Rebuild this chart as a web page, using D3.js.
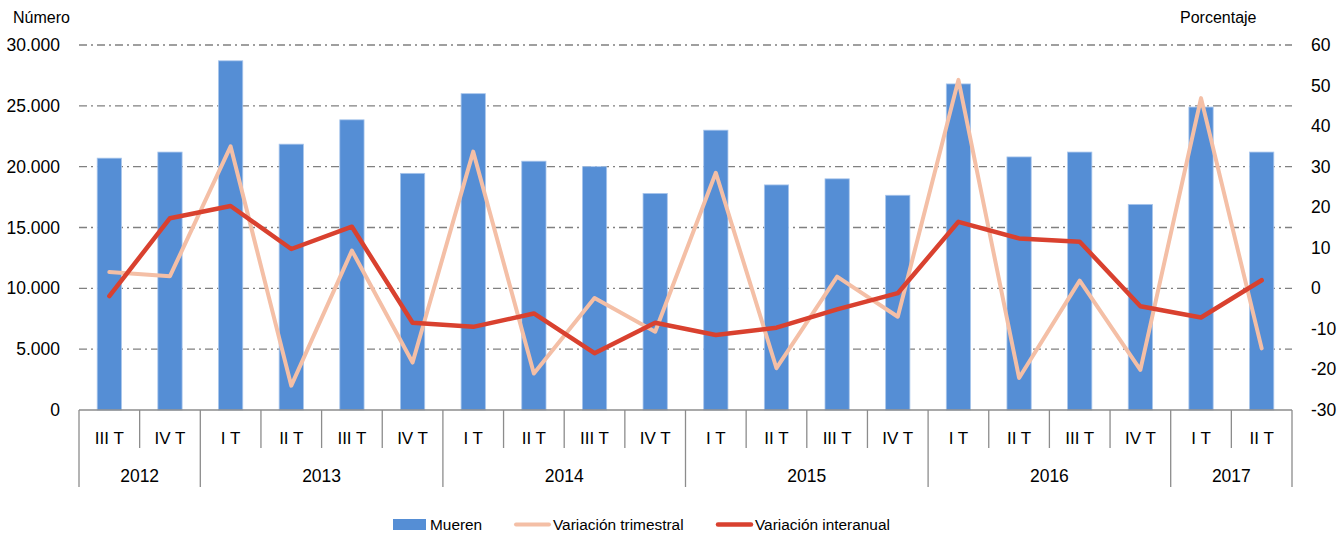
<!DOCTYPE html>
<html>
<head>
<meta charset="utf-8">
<script src="https://cdn.jsdelivr.net/npm/d3@7"></script>
<style>
  body { margin: 0; background: #fff; }
  text { font-family: "Liberation Sans", Arial, sans-serif; fill: #000; }
</style>
</head>
<body>
<div class="chart"></div>
<script>
// data
var quarters = ["III T","IV T","I T","II T","III T","IV T","I T","II T","III T","IV T",
                "I T","II T","III T","IV T","I T","II T","III T","IV T","I T","II T"];
var years = [
  { "year": "2012", "count": 2 },
  { "year": "2013", "count": 4 },
  { "year": "2014", "count": 4 },
  { "year": "2015", "count": 4 },
  { "year": "2016", "count": 4 },
  { "year": "2017", "count": 2 }];
var mueren = [20700, 21200, 28700, 21850, 23850, 19450, 26000, 20450, 20000, 17800,
              23000, 18500, 19000, 17650, 26800, 20800, 21200, 16900, 24900, 21200];
var varTrimestral = [4, 3, 35, -24, 9.3, -18.3, 33.7, -21, -2.4, -10.7,
                     28.5, -19.7, 2.9, -7, 51.4, -22.1, 1.9, -20.1, 46.9, -14.8];
var varInteranual = [-1.9, 17.3, 20.3, 9.7, 15.2, -8.5, -9.5, -6.2, -16, -8.5,
                     -11.5, -9.7, -5.2, -1.2, 16.4, 12.3, 11.5, -4.4, -7.2, 2];
var leftTicks = [0, 5000, 10000, 15000, 20000, 25000, 30000];
var rightTicks = [-30, -20, -10, 0, 10, 20, 30, 40, 50, 60];

var width = 1342, height = 538;
var plotLeft = 79, plotRight = 1292, plotTop = 45, plotBottom = 410;

var svg = d3.select(".chart").append("svg")
  .attr("width", width)
  .attr("height", height);

var x = d3.scaleBand()
  .domain(d3.range(quarters.length))
  .range([plotLeft, plotRight])
  .paddingInner(0.6)
  .paddingOuter(0.3);
var step = x.step();

var yLeft = d3.scaleLinear().domain([0, 30000]).range([plotBottom, plotTop]);
var yRight = d3.scaleLinear().domain([-30, 60]).range([plotBottom, plotTop]);

var fmt = function(v) { return d3.format(",")(v).replace(/,/g, "."); };

// gridlines
svg.append("g").selectAll("line")
  .data(leftTicks.filter(function(d) { return d > 0; }))
  .enter().append("line")
  .attr("x1", plotLeft).attr("x2", plotRight)
  .attr("y1", function(d) { return yLeft(d); })
  .attr("y2", function(d) { return yLeft(d); })
  .style("stroke", "#808080")
  .style("stroke-width", 1.3)
  .style("stroke-dasharray", "8,4,2,4");

// left axis labels
svg.append("g").selectAll("text")
  .data(leftTicks)
  .enter().append("text")
  .attr("x", 60)
  .attr("y", function(d) { return yLeft(d) + 6; })
  .attr("text-anchor", "end")
  .style("font-size", "17.5px")
  .text(fmt);

// right axis labels
svg.append("g").selectAll("text")
  .data(rightTicks)
  .enter().append("text")
  .attr("x", 1311)
  .attr("y", function(d) { return yRight(d) + 6; })
  .style("font-size", "17.5px")
  .text(function(d) { return d; });

svg.append("text").attr("x", 13).attr("y", 23).style("font-size", "16px").text("Número");
svg.append("text").attr("x", 1180).attr("y", 23).style("font-size", "16px").text("Porcentaje");

// bars
svg.append("g").selectAll("rect")
  .data(mueren)
  .enter().append("rect")
  .attr("x", function(d, i) { return x(i); })
  .attr("y", function(d) { return yLeft(d); })
  .attr("width", x.bandwidth())
  .attr("height", function(d) { return plotBottom - yLeft(d); })
  .style("fill", "#558ed5")
  .style("stroke", "#a9c6ec")
  .style("stroke-width", 0.8);

// category axis
var axis = svg.append("g").style("stroke", "#8c8c8c").style("stroke-width", 1.3);
axis.append("line").attr("x1", plotLeft).attr("x2", plotRight).attr("y1", plotBottom).attr("y2", plotBottom);

var yearBounds = [0];
years.forEach(function(y) { yearBounds.push(yearBounds[yearBounds.length - 1] + y.count); });

axis.selectAll("line.sep")
  .data(d3.range(quarters.length + 1))
  .enter().append("line")
  .attr("class", "sep")
  .attr("x1", function(i) { return plotLeft + i * step; })
  .attr("x2", function(i) { return plotLeft + i * step; })
  .attr("y1", plotBottom)
  .attr("y2", function(i) { return yearBounds.indexOf(i) >= 0 ? 487 : 448; });

svg.append("g").selectAll("text")
  .data(quarters)
  .enter().append("text")
  .attr("x", function(d, i) { return x(i) + x.bandwidth() / 2; })
  .attr("y", 444)
  .attr("text-anchor", "middle")
  .style("font-size", "17px")
  .text(function(d) { return d; });

svg.append("g").selectAll("text")
  .data(years)
  .enter().append("text")
  .attr("x", function(d, i) { return plotLeft + (yearBounds[i] + d.count / 2) * step; })
  .attr("y", 482)
  .attr("text-anchor", "middle")
  .style("font-size", "17.5px")
  .text(function(d) { return d.year; });

// lines
var lineGen = d3.line()
  .x(function(d, i) { return x(i) + x.bandwidth() / 2; })
  .y(function(d) { return yRight(d); });

svg.append("path")
  .attr("d", lineGen(varTrimestral))
  .style("fill", "none")
  .style("stroke", "#f4bfa6")
  .style("stroke-width", 4)
  .style("stroke-linejoin", "round")
  .style("stroke-linecap", "round");

svg.append("path")
  .attr("d", lineGen(varInteranual))
  .style("fill", "none")
  .style("stroke", "#d9412f")
  .style("stroke-width", 4.5)
  .style("stroke-linejoin", "round")
  .style("stroke-linecap", "round");

// legend
var legend = svg.append("g");
legend.append("rect").attr("x", 393).attr("y", 519).attr("width", 33).attr("height", 11)
  .style("fill", "#558ed5");
legend.append("text").attr("x", 430).attr("y", 530).style("font-size", "15.4px").text("Mueren");
legend.append("line").attr("x1", 516).attr("x2", 549).attr("y1", 524.5).attr("y2", 524.5)
  .style("stroke", "#f4bfa6").style("stroke-width", 4).style("stroke-linecap", "round");
legend.append("text").attr("x", 553).attr("y", 530).style("font-size", "15.4px").text("Variación trimestral");
legend.append("line").attr("x1", 718).attr("x2", 751).attr("y1", 524.5).attr("y2", 524.5)
  .style("stroke", "#d9412f").style("stroke-width", 4.5).style("stroke-linecap", "round");
legend.append("text").attr("x", 755).attr("y", 530).style("font-size", "15.4px").text("Variación interanual");
</script>
</body>
</html>
